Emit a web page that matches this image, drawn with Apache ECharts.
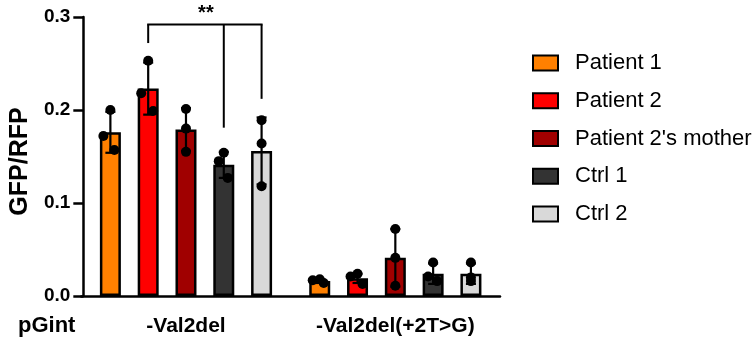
<!DOCTYPE html>
<html>
<head>
<meta charset="utf-8">
<script src="https://cdn.jsdelivr.net/npm/echarts@6/dist/echarts.min.js"></script>
<style>html,body{margin:0;padding:0;background:#fff;}#chart{width:755px;height:338px;}</style>
</head>
<body>
<div id="chart"></div>
<script>
// ---- data ----
const CATEGORIES = ['-Val2del', '-Val2del(+2T>G)'];
const SERIES_NAMES = ['Patient 1', 'Patient 2', "Patient 2's mother", 'Ctrl 1', 'Ctrl 2'];
const MEAN_VAL2DEL = [0.176, 0.223, 0.179, 0.141, 0.156];
const MEAN_2TG     = [0.016, 0.019, 0.041, 0.024, 0.024];
const SD_VAL2DEL   = [0.022, 0.028, 0.023, 0.014, 0.036];
const SD_2TG       = [0.002, 0.005, 0.031, 0.011, 0.011];
const POINTS_VAL2DEL = [
  [0.200, 0.172, 0.157],
  [0.253, 0.218, 0.199],
  [0.201, 0.180, 0.155],
  [0.154, 0.145, 0.127],
  [0.189, 0.164, 0.118]
];
const POINTS_2TG = [
  [0.018, 0.017, 0.014],
  [0.024, 0.021, 0.013],
  [0.072, 0.041, 0.011],
  [0.036, 0.021, 0.016],
  [0.036, 0.020, 0.016]
];
const Y_MIN = 0, Y_MAX = 0.3, Y_INTERVAL = 0.1;
const SIG_LABEL = '**';
const SIG_TOP = 0.292;                 // bracket bar level
const SIG_FROM = 1;                    // Patient 2
const SIG_DROPS = [[1, 0.272], [3, 0.181], [4, 0.212]]; // [series, lower end]

// ---- style / layout ----
const COLORS = ['#FF8000', '#FF0000', '#A00000', '#333333', '#D9D9D9'];
const BAR_W = 21, BAR_GAP = 0.8;
const JITTER = [[0, -7, 4], [0, -7, 5], [0, 0, 0], [0, -5, 4], [0, 0, 0]];
const FONT = 'Liberation Sans, Arial, sans-serif';
function off(i) { return (i - 2) * BAR_W * (1 + BAR_GAP); }

const MEANS = [MEAN_VAL2DEL, MEAN_2TG];
const SDS = [SD_VAL2DEL, SD_2TG];
const POINTS = [POINTS_VAL2DEL, POINTS_2TG];

const barSeries = SERIES_NAMES.map((name, i) => ({
  name: name,
  type: 'bar',
  barWidth: BAR_W,
  barGap: (BAR_GAP * 100) + '%',
  z: 2,
  itemStyle: { color: COLORS[i], borderColor: '#000', borderWidth: 2.5 },
  data: MEANS.map(m => m[i])
}));

const errData = [];
const ptData = [];
for (let c = 0; c < CATEGORIES.length; c++) {
  for (let i = 0; i < SERIES_NAMES.length; i++) {
    errData.push([c, i, MEANS[c][i], SDS[c][i]]);
    POINTS[c][i].forEach((v, k) => ptData.push([c, i, v, JITTER[i][k]]));
  }
}

const errSeries = {
  type: 'custom', z: 3, silent: true,
  data: errData,
  encode: { x: 0, y: 2 },
  renderItem: function (params, api) {
    const c = api.value(0), i = api.value(1), m = api.value(2), s = api.value(3);
    const hi = api.coord([c, m + s]), lo = api.coord([c, m - s]);
    const x = hi[0] + off(i);
    const st = { stroke: '#000', lineWidth: 2.2 };
    return { type: 'group', children: [
      { type: 'line', shape: { x1: x, y1: hi[1], x2: x, y2: lo[1] }, style: st },
      { type: 'line', shape: { x1: x - 5, y1: hi[1], x2: x + 5, y2: hi[1] }, style: st },
      { type: 'line', shape: { x1: x - 5, y1: lo[1], x2: x + 5, y2: lo[1] }, style: st }
    ]};
  }
};

const ptSeries = {
  type: 'custom', z: 4, silent: true,
  data: ptData,
  encode: { x: 0, y: 2 },
  renderItem: function (params, api) {
    const c = api.value(0), i = api.value(1), v = api.value(2), j = api.value(3);
    const p = api.coord([c, v]);
    return { type: 'circle', shape: { cx: p[0] + off(i) + j, cy: p[1], r: 5 }, style: { fill: '#000' } };
  }
};

const sigSeries = {
  type: 'custom', z: 5, silent: true, clip: false,
  data: [[0, SIG_TOP]],
  encode: { x: 0, y: 1 },
  renderItem: function (params, api) {
    const top = api.coord([0, SIG_TOP]);
    const cx = top[0];
    const st = { stroke: '#000', lineWidth: 2 };
    const xs = SIG_DROPS.map(d => cx + off(d[0]));
    const x1 = cx + off(SIG_FROM), x2 = Math.max.apply(null, xs);
    const children = [
      { type: 'line', shape: { x1: x1 - 1, y1: top[1], x2: x2 + 1, y2: top[1] }, style: st }
    ];
    SIG_DROPS.forEach(d => {
      const lo = api.coord([0, d[1]]);
      const x = cx + off(d[0]);
      children.push({ type: 'line', shape: { x1: x, y1: top[1], x2: x, y2: lo[1] }, style: st });
    });
    children.push({ type: 'text', style: { text: SIG_LABEL, x: (x1 + x2) / 2 + 1, y: top[1] - 1,
      textAlign: 'center', textVerticalAlign: 'bottom', fill: '#000', font: 'bold 20px ' + FONT } });
    return { type: 'group', children: children };
  }
};

const chart = echarts.init(document.getElementById('chart'), null, { renderer: 'canvas' });
chart.setOption({
  animation: false,
  backgroundColor: '#fff',
  textStyle: { fontFamily: FONT },
  grid: { left: 80, top: 17, width: 420, height: 279, containLabel: false },
  legend: {
    orient: 'vertical', left: 532, top: 52, padding: 0,
    itemWidth: 25, itemHeight: 15, itemGap: 15.75,
    icon: 'rect',
    itemStyle: { borderColor: '#000', borderWidth: 2 },
    textStyle: { fontSize: 22, color: '#000', fontFamily: FONT, padding: [0, 0, 0, 12], lineHeight: 20 },
    data: SERIES_NAMES
  },
  xAxis: {
    type: 'category', data: CATEGORIES,
    axisLine: { lineStyle: { color: '#000', width: 2.5 } },
    axisTick: { alignWithLabel: true, length: 9, lineStyle: { color: '#000', width: 2.5 } },
    axisLabel: { color: '#000', fontWeight: 'bold', fontSize: 21, margin: 20, fontFamily: FONT }
  },
  yAxis: {
    type: 'value', min: Y_MIN, max: Y_MAX, interval: Y_INTERVAL, offset: -2,
    name: 'GFP/RFP', nameLocation: 'middle', nameGap: 45, nameRotate: 90,
    nameTextStyle: { color: '#000', fontWeight: 'bold', fontSize: 25, fontFamily: FONT, padding: [0, 10, 0, 0] },
    axisLine: { show: true, lineStyle: { color: '#000', width: 2.5 } },
    axisTick: { show: true, length: 10, lineStyle: { color: '#000', width: 2.5 } },
    axisLabel: { color: '#000', fontWeight: 'bold', fontSize: 19, margin: 13, fontFamily: FONT,
      formatter: v => v.toFixed(1) },
    splitLine: { show: false }
  },
  graphic: [{
    type: 'text', left: 18, top: 315,
    style: { text: 'pGint', font: 'bold 22px ' + FONT, fill: '#000' }
  }],
  series: barSeries.concat([errSeries, ptSeries, sigSeries])
});
</script>
</body>
</html>
